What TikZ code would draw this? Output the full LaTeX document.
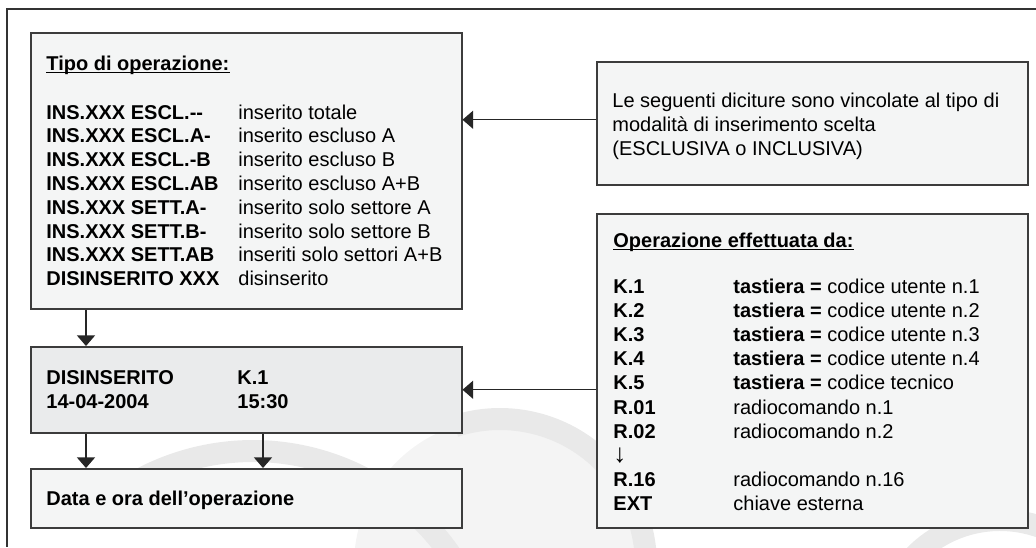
\documentclass[tikz,border=0pt]{standalone}
\usepackage{fontspec}
\setmainfont{Liberation Sans}
\usetikzlibrary{arrows.meta,positioning,calc}

\definecolor{panelfill}{HTML}{F4F5F5}
\definecolor{dispfill}{HTML}{EAEBEC}
\definecolor{panelline}{HTML}{3C3C3C}
\definecolor{markband}{HTML}{E9E9E9}
\definecolor{markfill}{HTML}{F4F4F4}

\tikzset{
  panel/.style={draw=panelline, line width=0.75pt, fill=panelfill, rectangle,
    inner sep=0pt, anchor=north west, minimum width=215.5pt},
  txt/.style={anchor=base west, inner sep=0pt, font=\fontsize{10}{12}\selectfont},
  headtxt/.style={txt, font=\fontsize{10}{12}\selectfont\bfseries},
  flow/.style={draw=black!85, line width=0.65pt, -{Triangle[width=9pt,length=5.3pt]}},
}

\begin{document}
\begin{tikzpicture}[x=0.5pt,y=-0.5pt]
    \useasboundingbox (0,0) rectangle (1036,547);

    % Watermark
    \begin{scope}
      \clip (0,0) rectangle (1036,547);
      \fill[markfill] (500,565) circle[radius=146];
      \draw[markband, line width=11pt] (500,565) ++(-108:146) arc[start angle=-108, end angle=-5, radius=146];
      \draw[markband, line width=11pt] (253,691) ++(-122:240) arc[start angle=-122, end angle=-30, radius=240];
      \draw[markband, line width=11pt] (1000,640) ++(-170:120) arc[start angle=-170, end angle=-40, radius=120];
    \end{scope}

    % Frame
    \draw[black!80, line width=0.8pt] (1036,9) -- (7,9) -- (7,547);

    % Boxes
    \node[panel, minimum height=138pt] (tipo) at (30,32) {};
    \node[panel, fill=dispfill, minimum height=43pt] (disp) at (30,346) {};
    \node[panel, minimum height=29.5pt] (data) at (30,468) {};
    \node[panel, minimum height=61.5pt] (nota) at (596,61) {};
    \node[panel, minimum height=157pt] (oper) at (596,213) {};

    % Tipo di operazione
    \node[headtxt] (tipoTitle) at (46,70) {Tipo di operazione:};
    \draw[line width=0.7pt] ([yshift=-1.2pt]tipoTitle.base west) -- ([yshift=-1.2pt]tipoTitle.base east);
    \foreach \code/\desc [count=\i from 0] in {INS.XXX ESCL.{-}{-}/inserito totale,
        INS.XXX ESCL.A-/inserito escluso A, INS.XXX ESCL.-B/inserito escluso B,
        INS.XXX ESCL.AB/inserito escluso A+B, INS.XXX SETT.A-/inserito solo settore A,
        INS.XXX SETT.B-/inserito solo settore B, INS.XXX SETT.AB/inseriti solo settori A+B,
        DISINSERITO XXX/disinserito} {
      \node[headtxt] (code\i) at (46,119+23.8*\i) {\code};
      \node[txt] (desc\i) at (238,119+23.8*\i) {\desc};
    }

    % Display
    \node[headtxt] (stato) at (46,384) {DISINSERITO};
    \node[headtxt] (giorno) at (46,408.5) {14-04-2004};
    \node[headtxt] (utente) at (237,384) {K.1};
    \node[headtxt] (ora) at (237,408.5) {15:30};

    \node[headtxt] (dataText) at (46,505) {Data e ora dell’operazione};

    % Nota
    \node[txt] (nota1) at (612,107) {Le seguenti diciture sono vincolate al tipo di};
    \node[txt] (nota2) at (612,131) {modalità di inserimento scelta};
    \node[txt] (nota3) at (612,155) {(ESCLUSIVA o INCLUSIVA)};

    % Operazione effettuata da
    \node[headtxt] (operTitle) at (613,247) {Operazione effettuata da:};
    \draw[line width=0.7pt] ([yshift=-1.2pt]operTitle.base west) -- ([yshift=-1.2pt]operTitle.base east);
    \foreach \who/\how [count=\i from 0] in {K.1/\textbf{tastiera =} codice utente n.1,
        K.2/\textbf{tastiera =} codice utente n.2, K.3/\textbf{tastiera =} codice utente n.3,
        K.4/\textbf{tastiera =} codice utente n.4, K.5/\textbf{tastiera =} codice tecnico,
        R.01/radiocomando n.1, R.02/radiocomando n.2, {\fontsize{13}{12}\selectfont ↓}/{},
        R.16/radiocomando n.16, EXT/chiave esterna} {
      \node[headtxt] (who\i) at (613,293+24.2*\i) {\who};
      \node[txt] (how\i) at (733,293+24.2*\i) {\how};
    }

    % Arrows
    \draw[flow] ([yshift=1.75pt]nota.west) -- ([yshift=1.75pt]nota.west -| tipo.east);
    \draw[flow] (oper.west |- disp.east) -- (disp.east);
    \draw[flow] ($(tipo.south west)+(56,0)$) -- ($(disp.north west)+(56,0)$);
    \draw[flow] ($(disp.south west)+(56,0)$) -- ($(data.north west)+(56,0)$);
    \draw[flow] ($(disp.south west)+(233,0)$) -- ($(data.north west)+(233,0)$);

\end{tikzpicture}
\end{document}
